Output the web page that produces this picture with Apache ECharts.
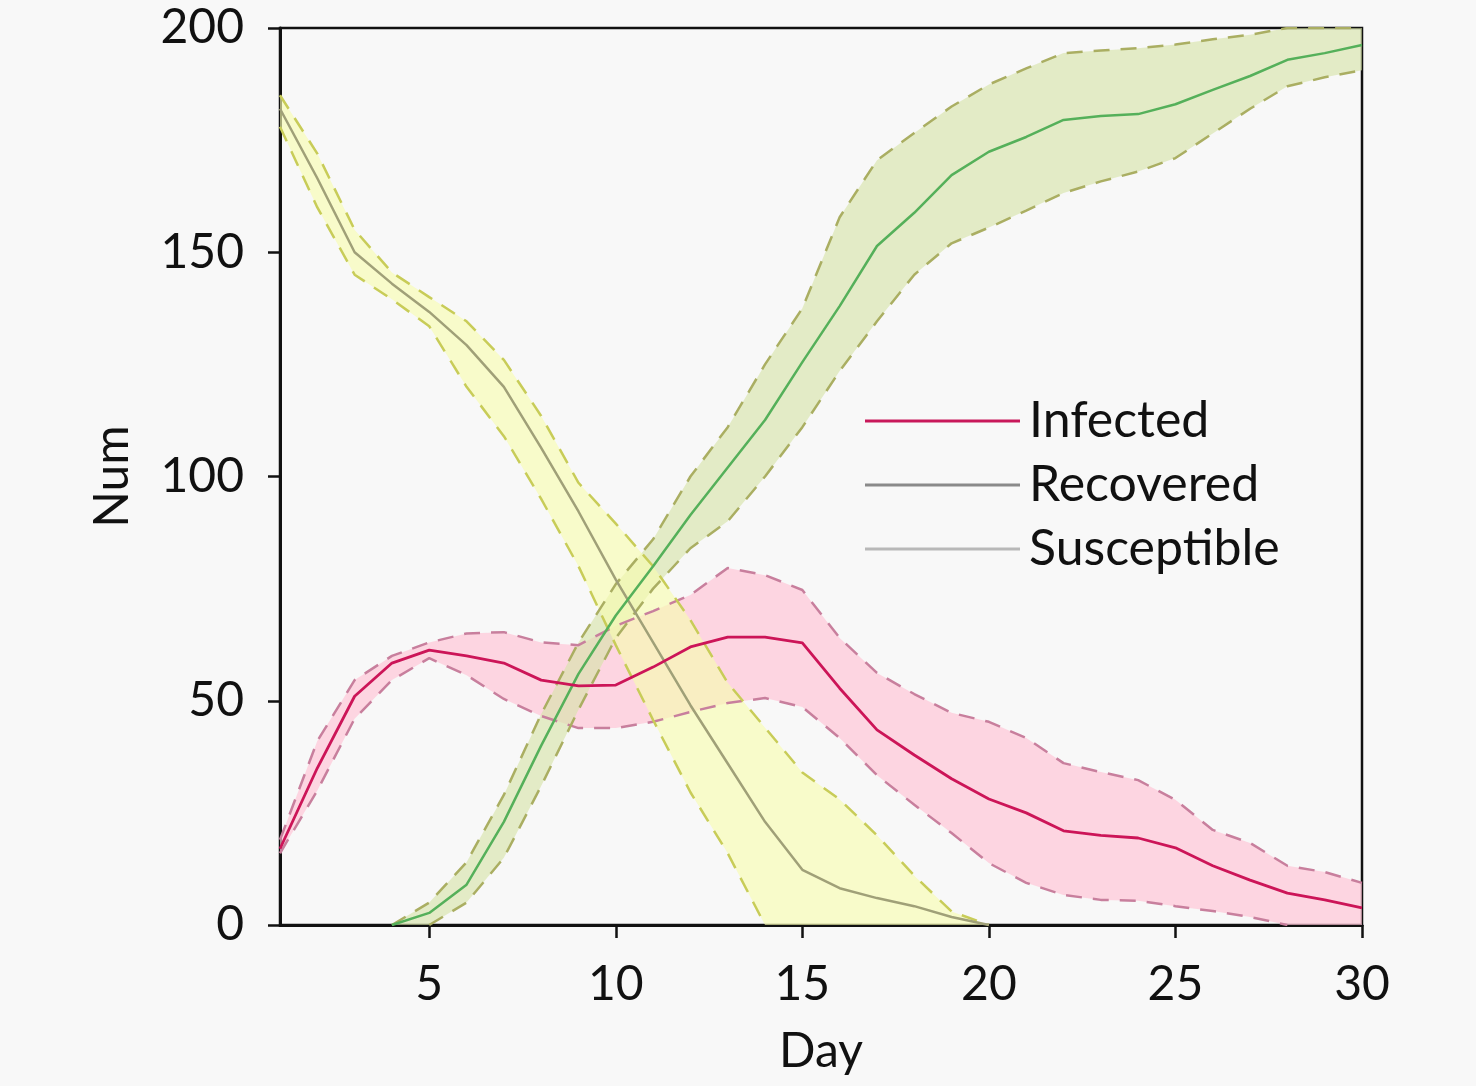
<!DOCTYPE html>
<html>
<head>
<meta charset="utf-8">
<script src="https://cdn.jsdelivr.net/npm/echarts@6/dist/echarts.min.js"></script>
<style>
html,body{margin:0;padding:0;background:#f8f8f8;}
#chart{width:1476px;height:1086px;}
</style>
</head>
<body>
<div id="chart"></div>
<script>
const days = [1,2,3,4,5,6,7,8,9,10,11,12,13,14,15,16,17,18,19,20,21,22,23,24,25,26,27,28,29,30];
const xTickLabels = [5,10,15,20,25,30];
const yTicks = [0,50,100,150,200];

const infected      = [17,35,51,58.4,61.3,60,58.4,54.6,53.3,53.5,57.5,62,64.2,64.2,62.9,52.8,43.5,37.9,32.6,28.1,25,21,20,19.4,17.2,13.2,10,7.1,5.6,3.8];
const infectedUpper = [19,41,54.6,60,63,65,65.3,63,62.4,66.7,70,73.6,79.6,78,74.7,64,56.2,51.5,47.3,45.3,41.7,36.1,34.1,32.3,27.9,21.2,18.3,13.2,11.8,9.4];
const infectedLower = [16,30,46,54.6,59.5,55.7,50.4,46.6,43.9,43.9,45.3,47.5,49.5,50.6,48.6,41.7,33.4,26.8,20.5,13.8,9.4,6.7,5.6,5.4,4.2,3.1,1.8,0,null,null];

const recovered      = [null,null,null,0,2.7,9,23,40,56,69,80,91.4,102,112.6,125.5,138,151.4,158.8,167.2,172.4,175.7,179.5,180.4,180.8,183,186.2,189.3,192.9,194.4,196.2];
const recoveredUpper = [null,null,null,0,5,14,29,47,63,76,86,100,111,125,137.5,157.8,170.5,176.6,182.5,187.4,191,194.4,195,195.5,196.3,197.5,198.5,200,200,200];
const recoveredLower = [null,null,null,null,0,5,15,31,48,64,75,84,90,100,111,123.5,134.6,145,152,155.5,159.3,163.2,165.8,168,171,176.5,182,187,189,190.6];

const susceptible      = [182,166.5,150,143,136.7,129.3,120,106.4,92.2,77,63,49,36,23,12.3,8.2,6,4.2,1.8,0,null,null,null,null,null,null,null,null,null,null];
const susceptibleUpper = [185,172,155,145.5,140,134.6,126,113.5,98.6,89.5,80,68,54,44,34,28,20,11,3,0,null,null,null,null,null,null,null,null,null,null];
const susceptibleLower = [178,160,145,139.5,133.5,120,109,95,80,62.4,45.7,29.6,16,0,null,null,null,null,null,null,null,null,null,null,null,null,null,null,null,null];

const FONT = 'Lato';
const pairs = arr => days.map((d,i) => [d, arr[i] == null ? '-' : arr[i]]);

function band(name, lower, upper, fill, opacity) {
  return {
    name: name, type: 'custom', silent: true, z: 1,
    data: pairs(upper.map((v,i) => v == null ? 0 : v)),
    renderItem: function (params, api) {
      if (params.dataIndex !== 0) return null;
      const pts = [];
      for (let i = 0; i < days.length; i++) pts.push(api.coord([days[i], upper[i] == null ? 0 : upper[i]]));
      for (let i = days.length - 1; i >= 0; i--) pts.push(api.coord([days[i], lower[i] == null ? 0 : lower[i]]));
      return { type: 'polygon', shape: { points: pts }, style: { fill: fill, opacity: opacity } };
    }
  };
}
function dashed(name, arr, color) {
  return { name: name, type: 'line', data: pairs(arr), symbol: 'none', silent: true, z: 3,
    lineStyle: { color: color, width: 2.5, type: [16, 11] } };
}
function mean(name, arr, color, w) {
  return { name: name, type: 'line', data: pairs(arr), symbol: 'none', z: 4,
    lineStyle: { color: color, width: w } };
}

const chart = echarts.init(document.getElementById('chart'));
chart.setOption({
  backgroundColor: '#f8f8f8',
  animation: false,
  grid: { left: 280, right: 114, top: 28, bottom: 161, show: true, borderColor: '#111', borderWidth: 2.5, backgroundColor: 'transparent' },
  legend: {
    orient: 'vertical', left: 860, top: 387, itemWidth: 155, itemHeight: 3, itemGap: 6,
    textStyle: { fontFamily: FONT, fontSize: 50, lineHeight: 58, color: '#111', padding: [0,0,0,4] },
    data: [
      { name: 'Infected', icon: 'rect', itemStyle: { color: '#c8185a' } },
      { name: 'Recovered', icon: 'rect', itemStyle: { color: '#8a8a8a' } },
      { name: 'Susceptible', icon: 'rect', itemStyle: { color: '#b8b8b8' } }
    ]
  },
  xAxis: {
    type: 'value', min: 1, max: 30,
    name: 'Day', nameLocation: 'middle', nameGap: 103,
    nameTextStyle: { fontFamily: FONT, fontSize: 48, color: '#111' },
    axisLine: { show: true, lineStyle: { color: '#111', width: 3 } },
    axisTick: { show: true, length: 13, lineStyle: { color: '#111', width: 2.5 }, customValues: xTickLabels },
    axisLabel: { fontFamily: FONT, fontSize: 48, color: '#111', margin: 36, customValues: xTickLabels },
    splitLine: { show: false }
  },
  yAxis: {
    type: 'value', min: 0, max: 200, interval: 50,
    name: 'Num', nameLocation: 'middle', nameGap: 143, nameRotate: 90,
    nameTextStyle: { fontFamily: FONT, fontSize: 48, color: '#111' },
    axisLine: { show: true, lineStyle: { color: '#111', width: 3 } },
    axisTick: { show: true, length: 12, lineStyle: { color: '#111', width: 2.5 } },
    axisLabel: { fontFamily: FONT, fontSize: 48, color: '#111', margin: 36, customValues: yTicks },
    splitLine: { show: false }
  },
  series: [
    band('I_band', infectedLower, infectedUpper, '#ffc4d6', 0.68),
    band('R_band', recoveredLower, recoveredUpper, '#d6e4a8', 0.62),
    band('S_band', susceptibleLower, susceptibleUpper, '#f7fcb0', 0.65),
    dashed('I_up', infectedUpper, '#c87f9d'),
    dashed('I_lo', infectedLower, '#c87f9d'),
    dashed('R_up', recoveredUpper, '#aaae62'),
    dashed('R_lo', recoveredLower, '#aaae62'),
    dashed('S_up', susceptibleUpper, '#c8cc58'),
    dashed('S_lo', susceptibleLower, '#c8cc58'),
    mean('Susceptible', susceptible, '#a0a078', 2.5),
    mean('Recovered', recovered, '#55b05a', 2.5),
    mean('Infected', infected, '#cc1558', 2.8)
  ]
});
</script>
</body>
</html>
